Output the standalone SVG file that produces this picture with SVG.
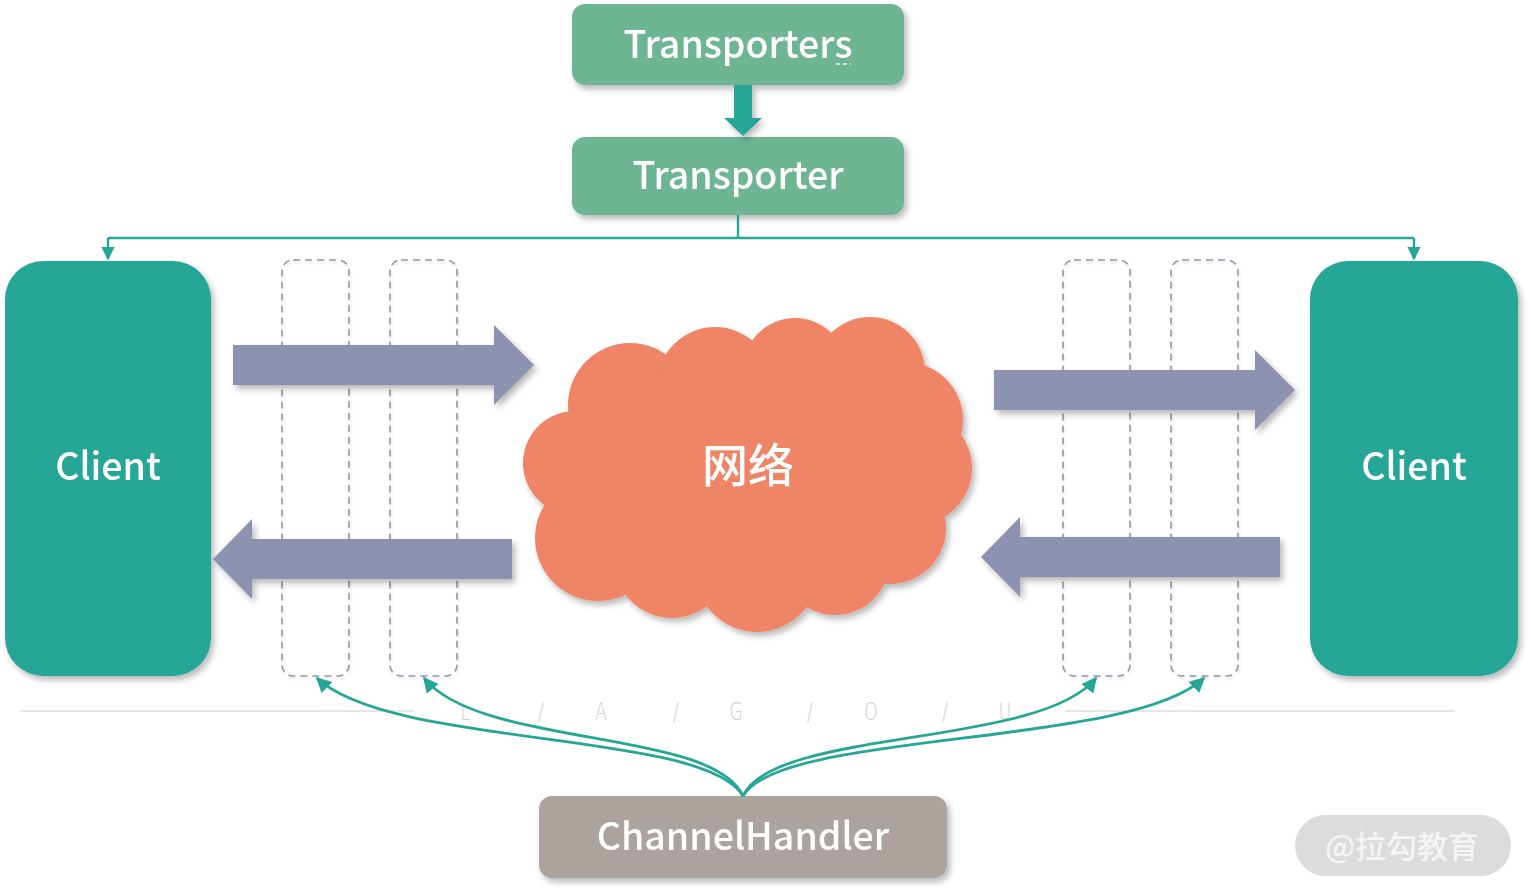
<svg xmlns="http://www.w3.org/2000/svg" width="1531" height="896" viewBox="0 0 1531 896">
<defs>
<style>
.lbl{font-family:"Noto Sans CJK SC","Noto Sans",sans-serif;font-weight:500;fill:#ffffff;text-anchor:middle}
.client{fill:#26a697}
.trans{fill:#6eb593}
.pipe{fill:#8e92b1}
.dash{fill:none;stroke:#9494aa;stroke-width:1.6;stroke-dasharray:7 5}
.conn{fill:none;stroke:#26a697;stroke-width:2.4}
.curve{fill:none;stroke:#26a697;stroke-width:2.8}
.wm{font-family:"DejaVu Sans","Liberation Sans",sans-serif;font-weight:300;font-size:25px;fill:#cdcdcd;text-anchor:middle}
</style>
<filter id="sh" x="-10%" y="-10%" width="125%" height="125%">
<feDropShadow dx="3" dy="4" stdDeviation="3" flood-color="#000" flood-opacity="0.28"/>
</filter>
<filter id="shl" x="-10%" y="-10%" width="125%" height="125%">
<feDropShadow dx="1" dy="2" stdDeviation="1.5" flood-color="#000" flood-opacity="0.15"/>
</filter>
<marker id="ah" viewBox="0 0 10 10" refX="9" refY="5" markerWidth="5.5" markerHeight="5.5" orient="auto" markerUnits="strokeWidth">
<path d="M0,0 L10,5 L0,10 z" fill="#26a697"/>
</marker>
</defs>
<rect width="1531" height="896" fill="#ffffff"/>

<!-- watermark line -->
<g id="watermark-line">
<line x1="20" y1="711" x2="413" y2="711" stroke="#dedede" stroke-width="1.5"/>
<line x1="1065" y1="711" x2="1455" y2="711" stroke="#dedede" stroke-width="1.5"/>
<g transform="translate(0,720)">
<text class="wm" transform="translate(465,0) scale(0.7,1)">L</text>
<text class="wm" transform="translate(541,0) scale(0.7,1)">/</text>
<text class="wm" transform="translate(601,0) scale(0.7,1)">A</text>
<text class="wm" transform="translate(676,0) scale(0.7,1)">/</text>
<text class="wm" transform="translate(736,0) scale(0.7,1)">G</text>
<text class="wm" transform="translate(810,0) scale(0.7,1)">/</text>
<text class="wm" transform="translate(871,0) scale(0.7,1)">O</text>
<text class="wm" transform="translate(945,0) scale(0.7,1)">/</text>
<text class="wm" transform="translate(1005,0) scale(0.7,1)">U</text>
</g>
</g>

<!-- dashed channel boxes -->
<g id="handler-slot-1" filter="url(#shl)"><rect class="dash" x="282" y="260" width="67" height="416" rx="11"/></g>
<g id="handler-slot-2" filter="url(#shl)"><rect class="dash" x="390" y="260" width="67" height="416" rx="11"/></g>
<g id="handler-slot-3" filter="url(#shl)"><rect class="dash" x="1063" y="260" width="67" height="416" rx="11"/></g>
<g id="handler-slot-4" filter="url(#shl)"><rect class="dash" x="1171" y="260" width="67" height="416" rx="11"/></g>

<!-- Transporters -->
<g id="transporters" filter="url(#sh)">
<rect class="trans" x="572" y="4" width="332" height="81" rx="13"/>
<text class="lbl" x="738" y="58" font-size="37.5">Transporters</text>
<line x1="836" y1="64" x2="851" y2="64" stroke="#f2f2f2" stroke-width="1.5" stroke-dasharray="4 3"/>
</g>

<!-- Transporter -->
<g id="transporter" filter="url(#sh)">
<rect class="trans" x="572" y="137" width="332" height="78" rx="13"/>
<text class="lbl" x="738" y="189" font-size="37.5">Transporter</text>
</g>

<!-- Clients -->
<g id="client-left" filter="url(#sh)">
<rect class="client" x="5" y="261" width="206" height="415" rx="38"/>
<text class="lbl" x="108" y="480" font-size="37.5">Client</text>
</g>
<g id="client-right" filter="url(#sh)">
<rect class="client" x="1310" y="261" width="208" height="415" rx="38"/>
<text class="lbl" x="1414" y="480" font-size="37.5">Client</text>
</g>

<!-- Cloud -->
<g id="network" filter="url(#sh)">
<g fill="#ef8466">
<circle cx="630" cy="405" r="62"/>
<circle cx="715" cy="385" r="58"/>
<circle cx="795" cy="370" r="52"/>
<circle cx="870" cy="372" r="55"/>
<circle cx="905" cy="420" r="58"/>
<circle cx="915" cy="468" r="57"/>
<circle cx="890" cy="528" r="56"/>
<circle cx="835" cy="560" r="55"/>
<circle cx="757" cy="570" r="62"/>
<circle cx="672" cy="560" r="58"/>
<circle cx="598" cy="538" r="63"/>
<circle cx="575" cy="463" r="52"/>
<ellipse cx="750" cy="470" rx="170" ry="115"/>
</g>
<text class="lbl" x="748" y="482" font-size="46">网络</text>
</g>

<!-- ChannelHandler -->
<g id="channel-handler" filter="url(#sh)">
<rect x="539" y="796" width="408" height="82" rx="13" fill="#aca39f"/>
<text class="lbl" x="743" y="850" font-size="37.5">ChannelHandler</text>
</g>

<!-- Pipe arrows -->
<g id="data-arrows" filter="url(#sh)">
<path class="pipe" d="M233,345 L494,345 L494,325 L534,365 L494,405 L494,385 L233,385 z"/>
<path class="pipe" d="M512,539 L252,539 L252,519 L213,559 L252,599 L252,579 L512,579 z"/>
<path class="pipe" d="M994,370 L1255,370 L1255,350 L1295,390 L1255,430 L1255,410 L994,410 z"/>
<path class="pipe" d="M1280,537 L1020,537 L1020,517 L981,557 L1020,597 L1020,577 L1280,577 z"/>
</g>

<!-- Connectors -->
<g id="connectors">
<path d="M734,85 L752,85 L752,118 L762,118 L743,136 L724,118 L734,118 z" fill="#26a697" filter="url(#sh)"/>
<path class="conn" d="M738,215 L738,238 M108,238 L1414,238"/>
<path class="conn" d="M108,238 L108,259" marker-end="url(#ah)"/>
<path class="conn" d="M1414,238 L1414,259" marker-end="url(#ah)"/>
<path class="curve" d="M743,796 C705,730 390,748 317,678" marker-end="url(#ah)"/>
<path class="curve" d="M743,796 C712,728 480,748 424,678" marker-end="url(#ah)"/>
<path class="curve" d="M743,796 C774,728 1040,748 1096,678" marker-end="url(#ah)"/>
<path class="curve" d="M743,796 C781,730 1130,748 1204,678" marker-end="url(#ah)"/>
</g>

<!-- watermark badge -->
<g id="badge">
<rect x="1295" y="815" width="216" height="61" rx="30.5" fill="#dcdcdc"/>
<text x="1402" y="858" font-family="Noto Sans CJK SC, sans-serif" font-size="31" font-weight="500" fill="#f4f4f4" text-anchor="middle">@拉勾教育</text>
</g>
</svg>
